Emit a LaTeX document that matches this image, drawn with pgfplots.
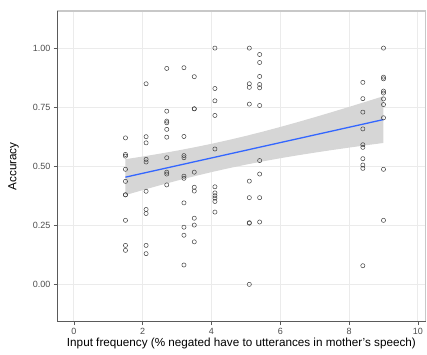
\documentclass[border=0pt]{standalone}
\usepackage{pgfplots}
\pgfplotsset{compat=1.18}
\usepackage{pgfplotstable}
\usepackage{fontspec}
\setmainfont{Liberation Sans}

\definecolor{gridgray}{RGB}{235,235,235}
\definecolor{bandgray}{RGB}{214,214,214}
\definecolor{fitblue}{RGB}{51,102,255}
\definecolor{ticktext}{RGB}{77,77,77}
\definecolor{framegray}{RGB}{200,200,200}
\definecolor{axisdark}{RGB}{90,90,90}

% accuracy per child against input frequency
\pgfplotstableread{
x y
1.5 0.620
1.5 0.550
1.5 0.543
1.5 0.487
1.5 0.436
1.5 0.379
1.5 0.379
1.5 0.271
1.5 0.165
1.5 0.144
2.1 0.849
2.1 0.625
2.1 0.599
2.1 0.529
2.1 0.518
2.1 0.394
2.1 0.317
2.1 0.300
2.1 0.165
2.1 0.130
2.7 0.914
2.7 0.733
2.7 0.691
2.7 0.684
2.7 0.656
2.7 0.623
2.7 0.536
2.7 0.475
2.7 0.467
2.7 0.421
3.2 0.917
3.2 0.626
3.2 0.545
3.2 0.536
3.2 0.458
3.2 0.449
3.2 0.345
3.2 0.242
3.2 0.208
3.2 0.082
3.5 0.879
3.5 0.743
3.5 0.743
3.5 0.475
3.5 0.411
3.5 0.395
3.5 0.280
3.5 0.251
3.5 0.180
4.1 1.000
4.1 0.829
4.1 0.777
4.1 0.715
4.1 0.573
4.1 0.413
4.1 0.387
4.1 0.375
4.1 0.365
4.1 0.351
4.1 0.306
5.1 1.000
5.1 0.849
5.1 0.834
5.1 0.763
5.1 0.437
5.1 0.367
5.1 0.261
5.1 0.259
5.1 0.000
5.4 0.973
5.4 0.939
5.4 0.880
5.4 0.846
5.4 0.832
5.4 0.757
5.4 0.524
5.4 0.467
5.4 0.367
5.4 0.264
8.4 0.855
8.4 0.786
8.4 0.729
8.4 0.658
8.4 0.591
8.4 0.580
8.4 0.532
8.4 0.505
8.4 0.491
8.4 0.079
9.0 1.000
9.0 0.877
9.0 0.870
9.0 0.818
9.0 0.810
9.0 0.785
9.0 0.761
9.0 0.705
9.0 0.487
9.0 0.271
}\points

% linear fit
\pgfplotstableread{
x fit
1.5 0.4538
9.0 0.6975
}\fit

\begin{document}
\begin{tikzpicture}
\useasboundingbox (0,0) rectangle (427pt,354pt);
\begin{axis}[
  at={(57pt,32.3pt)}, anchor=south west,
  scale only axis,
  width=368.8pt, height=310.7pt,
  xmin=-0.49, xmax=10.23,
  ymin=-0.158, ymax=1.157,
  xtick={0,2,4,6,8,10},
  ytick={0,0.25,0.5,0.75,1},
  yticklabels={0.00,0.25,0.50,0.75,1.00},
  xtick pos=lower, ytick pos=left,
  tick align=outside,
  major tick length=3.5pt,
  tick style={axisdark, line width=0.6pt},
  grid=major,
  major grid style={gridgray, line width=0.8pt},
  axis line style={draw=none},
  /pgf/number format/assume math mode=true,
  ticklabel style={font=\fontsize{9}{10}\selectfont, text=ticktext, inner sep=0pt},
  xticklabel style={anchor=north, yshift=-3pt},
  yticklabel style={anchor=east, xshift=-3pt},
  every axis x label/.style={at={(axis description cs:0.5,0)}, yshift=-22pt, anchor=center},
  every axis y label/.style={at={(axis description cs:0,0.5)}, xshift=-43.5pt, rotate=90, anchor=center},
  label style={font=\fontsize{11.7}{13}\selectfont},
  xlabel={Input frequency (\% negated have to utterances in mother's speech)},
  ylabel={Accuracy},
  clip=false,
]
% 95% confidence band around the fit: upper edge, then lower edge back
\addplot[fill=bandgray, draw=none] coordinates {
 (1.5,0.5298) (2.0,0.5411) (2.5,0.5532) (3.0,0.5660) (3.5,0.5800) (4.0,0.5949)
 (4.5,0.6111) (5.0,0.6283) (5.5,0.6468) (6.0,0.6662) (6.5,0.6865) (7.0,0.7075)
 (7.5,0.7291) (8.0,0.7512) (8.5,0.7737) (9.0,0.7965)
 (9.0,0.5985) (8.5,0.5889) (8.0,0.5788) (7.5,0.5685) (7.0,0.5575) (6.5,0.5461)
 (6.0,0.5338) (5.5,0.5208) (5.0,0.5067) (4.5,0.4915) (4.0,0.4751) (3.5,0.4576)
 (3.0,0.4390) (2.5,0.4194) (2.0,0.3989) (1.5,0.3778)
} -- cycle;
\addplot[only marks, mark=o, mark size=2.1pt, mark options={black!75, line width=0.5pt}] table[x=x, y=y] {\points};
\addplot[fitblue, line width=1.3pt] table[x=x, y=fit] {\fit};
% panel frame: light top and right, darker axis lines left and bottom
\draw[framegray, line width=1.2pt] (rel axis cs:0,1) -- (rel axis cs:1,1) -- (rel axis cs:1,0);
\draw[axisdark, line width=0.8pt] (rel axis cs:0,1) -- (rel axis cs:0,0) -- (rel axis cs:1,0);
\end{axis}
\end{tikzpicture}
\end{document}
